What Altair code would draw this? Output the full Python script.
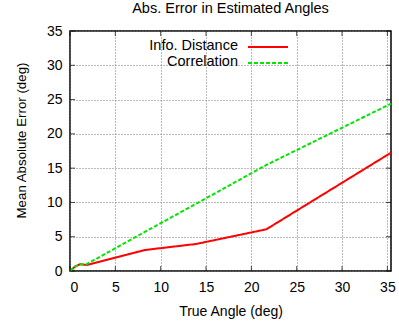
import altair as alt
import pandas as pd

# Data
series_names = ["Info. Distance", "Correlation"]
info_x = [0, 0.55, 1.1, 1.84, 8.25, 13.9, 21.65, 35.4]
info_y = [0, 0.63, 0.98, 0.88, 3.06, 3.94, 6.08, 17.25]
corr_x = [0, 0.55, 1.1, 1.84, 8.25, 13.9, 21.65, 35.4]
corr_y = [0, 0.65, 1.0, 1.0, 5.7, 9.8, 15.46, 24.4]
x_ticks = [0, 5, 10, 15, 20, 25, 30, 35]
y_ticks = [0, 5, 10, 15, 20, 25, 30, 35]

colors = ["#ff0000", "#00e600"]
dashes = [[1, 0], [4, 2]]
FONT = "Liberation Sans"

W, H = 321, 240

df = pd.concat([
    pd.DataFrame({"x": info_x, "y": info_y, "s": series_names[0], "o": range(len(info_x))}),
    pd.DataFrame({"x": corr_x, "y": corr_y, "s": series_names[1], "o": range(len(corr_x))}),
])

x_scale = alt.Scale(domain=[0, 35.4], nice=False, zero=False)
y_scale = alt.Scale(domain=[0, 35], nice=False)

grid_common = dict(grid=True, gridDash=[1, 2], gridColor="#777777", gridWidth=1,
                   ticks=False, domain=False, labelFont=FONT, labelFontSize=14,
                   labelColor="black", titleFont=FONT,
                   titleFontWeight="normal", titleColor="black")

x_axis = alt.Axis(values=x_ticks, title="True Angle (deg)", labelPadding=9,
                  titlePadding=10, titleFontSize=14, **grid_common)
y_axis = alt.Axis(values=y_ticks, title="Mean Absolute Error (deg)",
                  labelPadding=8, titleX=-49, titleY=109, titleAngle=270,
                  titleFontSize=13.3,
                  titleAlign="center", titleBaseline="middle", **grid_common)

layers = []
for name, col, dash in zip(series_names, colors, dashes):
    sub = df[df["s"] == name]
    line = alt.Chart(sub).mark_line(color=col, strokeWidth=2, strokeDash=dash).encode(
        x=alt.X("x:Q", scale=x_scale, axis=x_axis),
        y=alt.Y("y:Q", scale=y_scale, axis=y_axis),
        order="o:Q",
    )
    layers.append(line)

# inward ticks (gnuplot style) on all four sides
xt = pd.DataFrame({"x": x_ticks})
yt = pd.DataFrame({"y": y_ticks})
tick_len = 5
for ypos in [H - tick_len / 2, tick_len / 2]:
    layers.append(alt.Chart(xt).mark_tick(color="black", thickness=1, size=tick_len,
                                          orient="vertical").encode(
        x=alt.X("x:Q", scale=x_scale, axis=x_axis), y=alt.value(ypos)))
for xpos in [tick_len / 2, W - tick_len / 2]:
    layers.append(alt.Chart(yt).mark_tick(color="black", thickness=1, size=tick_len,
                                          orient="horizontal").encode(
        y=alt.Y("y:Q", scale=y_scale, axis=y_axis), x=alt.value(xpos)))

# key (label left, sample right, as in gnuplot)
key_y = [15, 31]
for name, col, dash, ky in zip(series_names, colors, dashes, key_y):
    kdf = pd.DataFrame({"s": [name]})
    layers.append(alt.Chart(kdf).mark_text(align="right", baseline="middle", font=FONT,
                                           fontSize=14.5, color="black").encode(
        text="s:N", x=alt.value(168), y=alt.value(ky)))
    layers.append(alt.Chart(kdf).mark_rule(color=col, strokeWidth=2, strokeDash=dash).encode(
        x=alt.value(178), x2=alt.value(218), y=alt.value(ky + 1)))

chart = alt.layer(*layers).properties(
    width=W, height=H,
    title=alt.TitleParams("Abs. Error in Estimated Angles", font=FONT, fontSize=14.5,
                          fontWeight="normal", color="black", anchor="middle", offset=8),
    autosize=alt.AutoSizeParams(type="none"),
    padding={"left": 70, "top": 31, "right": 8, "bottom": 51},
    background="white",
).configure_view(stroke="black", strokeWidth=1.5)

chart.save("out.html", embed_options={"renderer": "svg", "actions": False})
